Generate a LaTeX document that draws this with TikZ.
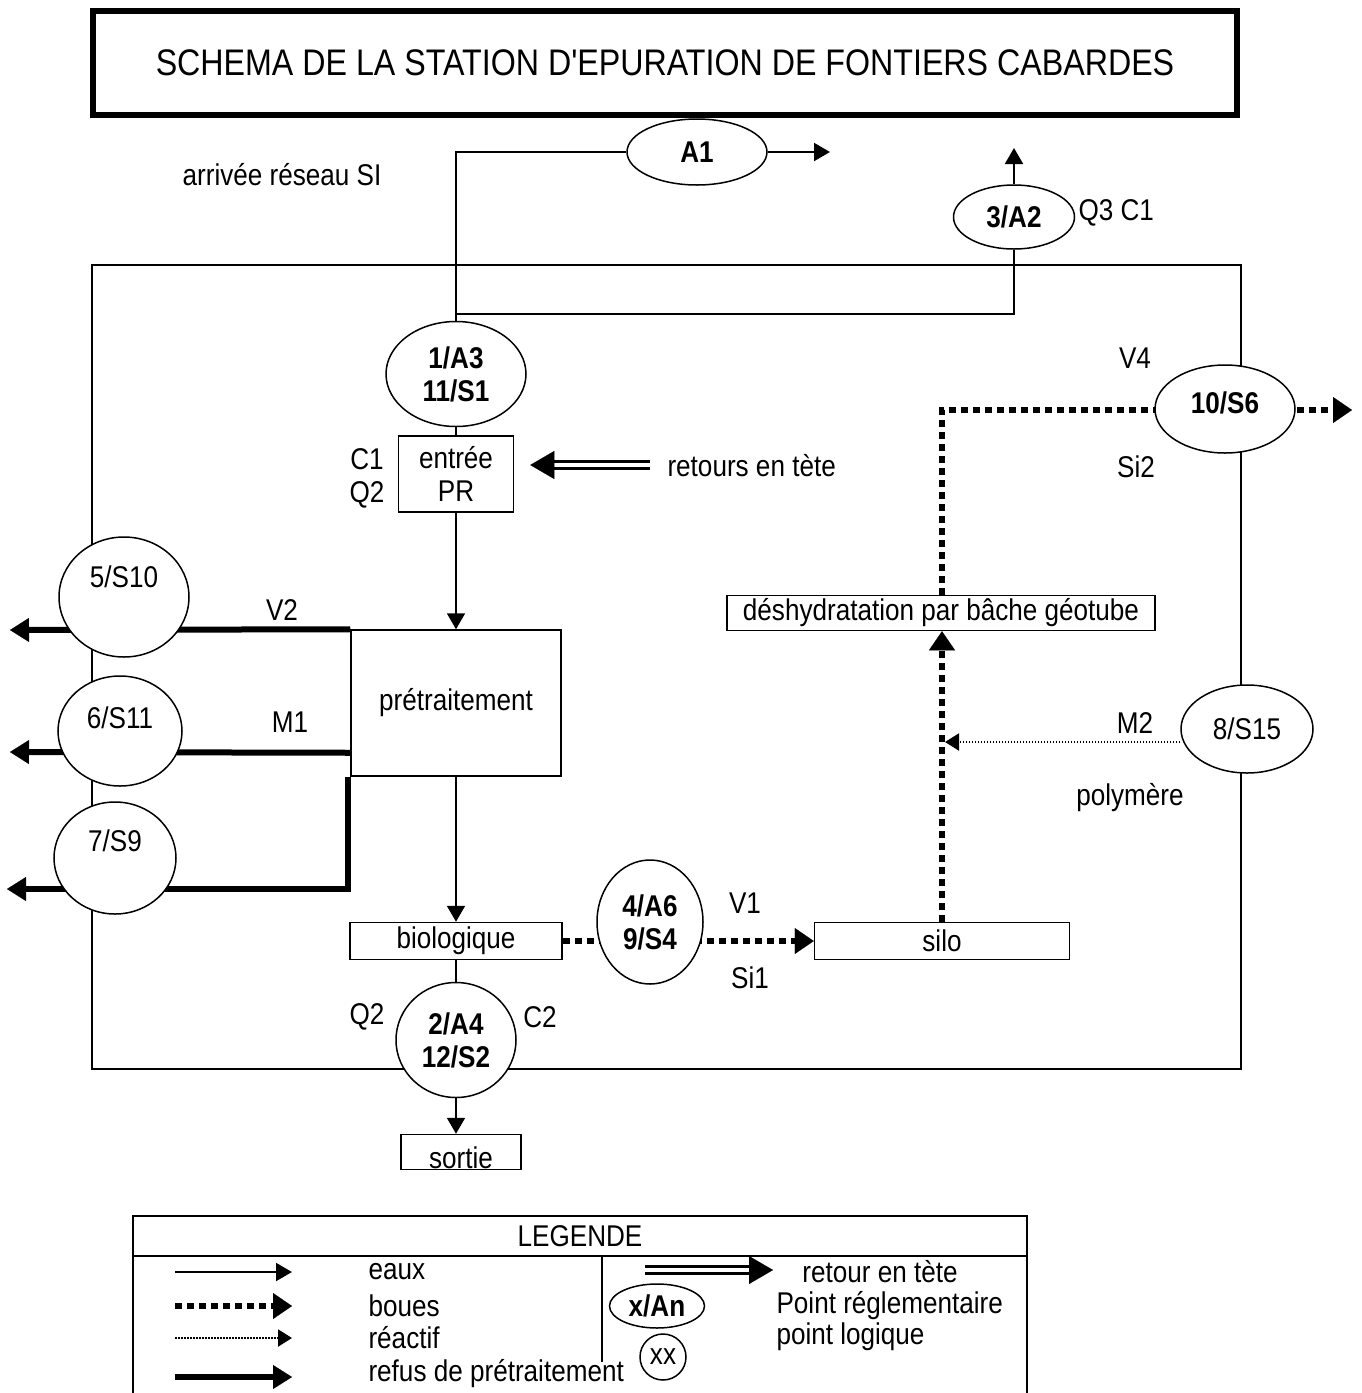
\documentclass[tikz,border=0pt]{standalone}
\usepackage{fontspec}
\setmainfont{Liberation Sans}[FakeStretch=0.87,Ligatures=TeXOff]
\usetikzlibrary{shapes.geometric,arrows.meta,backgrounds}

\newcommand{\corps}{\fontsize{30pt}{33pt}\selectfont}
\newcommand{\fonttitre}{\fontsize{37pt}{40pt}\selectfont}

\tikzset{
  boite/.style={draw, line width=1.5pt, fill=white, inner sep=0pt, align=center},
  ptregl/.style={ellipse, draw, line width=1.5pt, fill=white, inner sep=0pt, align=center, font=\corps\bfseries},
  ptlog/.style={ellipse, draw, line width=1.5pt, fill=white, inner sep=0pt, align=center},
  fil/.style={line width=2pt},
  eaux/.style={line width=2pt, -{Triangle[length=16pt,width=18pt]}},
  boues/.style={line width=6pt, dash pattern=on 7pt off 5pt, -{Triangle[length=19pt,width=26pt,line width=0.1pt]}},
  reactif/.style={line width=2pt, dash pattern=on 1.5pt off 1.5pt, -{Triangle[length=14pt,width=17pt]}},
  refus/.style={line width=6pt, -{Triangle[length=19pt,width=24pt,line width=0.1pt]}},
  retour/.style={double, double distance=4pt, line width=3pt, -{Triangle[length=24pt,width=28pt,line width=0.1pt]}},
}

\begin{document}
\begin{tikzpicture}[x=1pt,y=-1pt,font=\corps]
  \useasboundingbox (0,0) rectangle (1362,1393);

  % titre
  \node[draw, line width=6pt, minimum width=1144pt, minimum height=104pt, font=\fonttitre] (titre) at (665,63) {SCHEMA DE LA STATION D'EPURATION DE FONTIERS CABARDES};

  % points de mesure et ouvrages
  \node[ptregl, minimum width=140pt, minimum height=66pt] (A1) at (697,152) {A1};
  \node[ptregl, minimum width=121pt, minimum height=64pt] (P3) at (1014,217) {3/A2};
  \node[ptregl, minimum width=140pt, minimum height=105pt] (P1) at (456,374) {1/A3\\11/S1};
  \node[boite, minimum width=115pt, minimum height=76pt] (entree) at (456,474) {entrée\\PR};
  \node[boite, minimum width=210pt, minimum height=146pt] (pretr) at (456,703) {prétraitement};
  \node[boite, minimum width=212pt, minimum height=37pt] (bio) at (456,941) {biologique};
  \node[ptregl, minimum width=120pt, minimum height=115pt] (P2) at (456,1040) {2/A4\\12/S2};
  \node[boite, minimum width=120pt, text height=32pt, text depth=0pt, inner ysep=1.5pt] (sortie) at (461,1152) {sortie};
  \node[ptregl, minimum width=106pt, minimum height=124pt] (P4) at (650,922) {4/A6\\9/S4};
  \node[boite, minimum width=255pt, minimum height=37pt] (silo) at (942,941) {silo};
  \node[boite, minimum width=428pt, minimum height=35pt] (deshy) at (941,613) {déshydratation par bâche géotube};
  \node[ptregl, minimum width=140pt, minimum height=88pt] (P10) at (1225,409) {10/S6\\[-21pt]~};
  \node[ptlog, minimum width=132pt, minimum height=88pt] (P8) at (1247,729) {8/S15};
  \node[ptlog, minimum width=130pt, minimum height=120pt] (P5) at (124,597) {5/S10\\[8pt]~};
  \node[ptlog, minimum width=124pt, minimum height=110pt] (P6) at (120,731) {6/S11\\[-6pt]~};
  \node[ptlog, minimum width=122pt, minimum height=112pt] (P7) at (115,858) {7/S9\\[2pt]~};

  % textes
  \node (arrivee-t) at (282,175) {arrivée réseau SI};
  \node[anchor=west] (P3-t) at (1075,213) {Q3 C1};
  \node[align=center] (entree-t) at (367,478) {C1\\Q2};
  \node[anchor=west] (retour-t) at (664,466) {retours en tète};
  \node (V2-t) at (282,610) {V2};
  \node (M1-t) at (290,722) {M1};
  \node (V1-t) at (745,903) {V1};
  \node (Si1-t) at (750,978) {Si1};
  \node (Q2-t) at (367,1017) {Q2};
  \node (C2-t) at (540,1017) {C2};
  \node (V4-t) at (1135,358) {V4};
  \node (Si2-t) at (1136,467) {Si2};
  \node (M2-t) at (1135,723) {M2};
  \node (poly-t) at (1130,798) {polymère};

  % liaisons
  \coordinate (arrivee) at (456,152);
  \coordinate (rejetA1) at (830,152);
  \coordinate (bypass) at (456,314);
  \coordinate (rejetA2) at (1014,148);
  \coordinate (retourdep) at (650,465);
  \coordinate (refusV2) at (10,630);
  \coordinate (refusM1) at (10,752);
  \coordinate (refusS9) at (7,889);
  \coordinate (boues10) at (1352,410);
  \begin{pgfonlayer}{background}
    \draw[fil] (92,265) rectangle (1241,1069);
    \draw[fil] (A1.west) -- (arrivee) -- (P1.north);
    \draw[eaux] (A1.east) -- (rejetA1);
    \draw[fil] (bypass) -| (P3.south);
    \draw[eaux] (P3.north) -- (rejetA2);
    \draw[fil] (P1.south) -- (entree.north);
    \draw[retour, shorten >=16pt] (retourdep) -- (retourdep -| entree.east);
    \draw[eaux] (entree.south) -- (pretr.north);
    \draw[eaux] (pretr.south) -- (bio.north);
    \draw[fil] (bio.south) -- (P2.north);
    \draw[eaux] (P2.south) -- (P2.south |- sortie.north);
    \draw[refus] (pretr.north west) -- (refusV2);
    \draw[refus] ([yshift=24pt]pretr.south west) -- (refusM1);
    \draw[refus] ([xshift=-2pt]pretr.south west) |- (refusS9);
    \draw[boues] (bio.east) -- (silo.west);
    \draw[boues] (silo.north) -- (silo.north |- deshy.south);
    \draw[boues] (deshy.north -| silo.north) |- (boues10);
    \draw[reactif, shorten >=3pt] ([yshift=-13pt]P8.west) -- ([yshift=-13pt]P8.west -| silo.north);
  \end{pgfonlayer}

  % legende
  \draw[line width=2.5pt] (133,1400) -- (133,1216) -- (1027,1216) -- (1027,1400);
  \draw[fil] (133,1256) -- (1027,1256);
  \draw[fil] (602,1256) -- (602,1362);
  \node (legende) at (580,1236) {LEGENDE};
  \coordinate (leauxa) at (175,1272);   \coordinate (leauxb) at (292,1272);
  \coordinate (lbouesa) at (175,1306);  \coordinate (lbouesb) at (292,1306);
  \coordinate (lreaca) at (175,1338);   \coordinate (lreacb) at (292,1338);
  \coordinate (lrefusa) at (175,1377);  \coordinate (lrefusb) at (292,1377);
  \coordinate (lretoura) at (645,1270); \coordinate (lretourb) at (773,1270);
  \draw[eaux] (leauxa) -- (leauxb);
  \draw[boues] (lbouesa) -- (lbouesb);
  \draw[reactif] (lreaca) -- (lreacb);
  \draw[refus] (lrefusa) -- (lrefusb);
  \draw[retour] (lretoura) -- (lretourb);
  \node[anchor=west] (leaux-t) at (365,1272) {eaux};
  \node[anchor=west] (lboues-t) at (365,1306) {boues};
  \node[anchor=west] (lreac-t) at (365,1338) {réactif};
  \node[anchor=west] (lrefus-t) at (365,1374) {refus de prétraitement};
  \node (lretour-t) at (880,1272) {retour en tète};
  \node[ptregl, minimum width=95pt, minimum height=44pt] (lregl) at (657,1306) {x/An};
  \node[ptlog, minimum width=46pt, minimum height=46pt] (llog) at (663,1357) {xx};
  \node[anchor=west] (lregl-t) at (773,1306) {Point réglementaire};
  \node[anchor=west] (llog-t) at (773,1337) {point logique};
\end{tikzpicture}
\end{document}
